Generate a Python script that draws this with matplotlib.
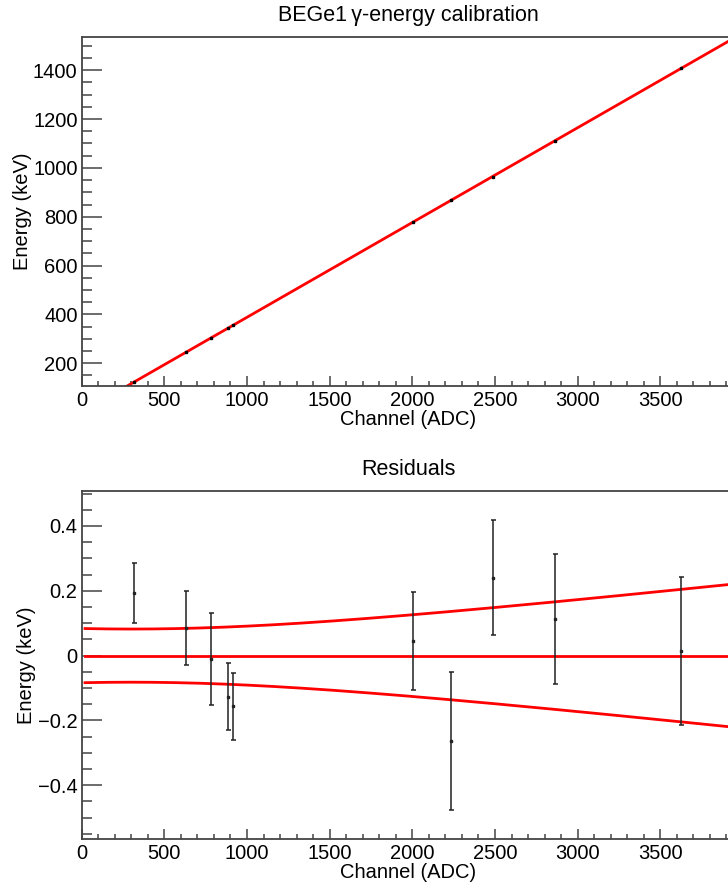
import numpy as np
import matplotlib.pyplot as plt
from matplotlib.ticker import MultipleLocator

plt.rcParams['font.family'] = ['Liberation Sans', 'DejaVu Sans']

# calibration points (channel -> gamma line energy)
channels = [314, 631, 780, 887, 918, 2006, 2236, 2486, 2865, 3627]
energies = [121.78, 244.70, 302.85, 344.28, 356.01, 778.90, 867.38, 964.08, 1112.08, 1408.01]

# residuals
residuals = [0.194, 0.085, -0.011, -0.127, -0.157, 0.044, -0.263, 0.241, 0.114, 0.014]
res_errors = [0.093, 0.114, 0.142, 0.104, 0.104, 0.151, 0.213, 0.178, 0.201, 0.229]

# fit parameters (linear) and confidence band parameters
fit_offset = 0.0
fit_slope = 0.3882
band_min = 0.082
band_slope = 5.63e-5
band_center = 300

XMAX = 3950
FG = '#444444'


def style_axes(ax, ymajor, yminor):
    ax.set_xlim(0, XMAX)
    ax.xaxis.set_major_locator(MultipleLocator(500))
    ax.xaxis.set_minor_locator(MultipleLocator(100))
    ax.yaxis.set_major_locator(MultipleLocator(ymajor))
    ax.yaxis.set_minor_locator(MultipleLocator(yminor))
    ax.tick_params(axis='both', which='both', direction='in', top=False, right=False,
                   color=FG, width=1.1, labelsize=14.5)
    ax.tick_params(axis='y', which='major', length=14.4, pad=3)
    ax.tick_params(axis='y', which='minor', length=7.2)
    ax.tick_params(axis='x', which='major', length=7.2, pad=3.5)
    ax.tick_params(axis='x', which='minor', length=3.6)
    for s in ax.spines.values():
        s.set_color(FG)
        s.set_linewidth(1.3)
    ax.set_xlabel('Channel (ADC)', fontsize=14.5, labelpad=0)
    ax.set_ylabel('Energy (keV)', fontsize=14.5, labelpad=1)


fig = plt.figure(figsize=(7.28, 8.86), dpi=100)
W = 653 / 728

# top: calibration
ax1 = fig.add_axes([81.7 / 728, 0.5647, W, 0.3935])
xs = np.linspace(0, XMAX, 400)
ax1.plot(xs, fit_offset + fit_slope * xs, color='red', lw=2, zorder=2)
ax1.plot(channels, energies, 's', color='black', ms=2, zorder=3)
ax1.set_ylim(108, 1536)
style_axes(ax1, 200, 50)
ax1.set_title('BEGe1\u2009\u03b3-energy calibration', fontsize=15.5, pad=11.5)

# bottom: residuals
ax2 = fig.add_axes([81.7 / 728, 0.0530, W, 0.3932])
xr = np.linspace(20, XMAX, 400)
band = np.sqrt(band_min ** 2 + (band_slope * (xr - band_center)) ** 2)
ax2.plot(xr, band, color='red', lw=2)
ax2.plot(xr, -band, color='red', lw=2)
ax2.plot(xr, np.zeros_like(xr), color='red', lw=2)
ax2.errorbar(channels, residuals, yerr=res_errors, fmt='s', color='#222222',
             ms=1.5, elinewidth=1.1, capsize=1.8, capthick=1.1, zorder=3)
ax2.set_ylim(-0.566, 0.509)
style_axes(ax2, 0.2, 0.05)
ax2.set_yticks([-0.4, -0.2, 0, 0.2, 0.4])
ax2.set_yticklabels(['\u22120.4', '\u22120.2', '0', '0.2', '0.4'])
ax2.set_title('Residuals', fontsize=15.5, pad=11.5)

fig.savefig('out.png', dpi=100)
